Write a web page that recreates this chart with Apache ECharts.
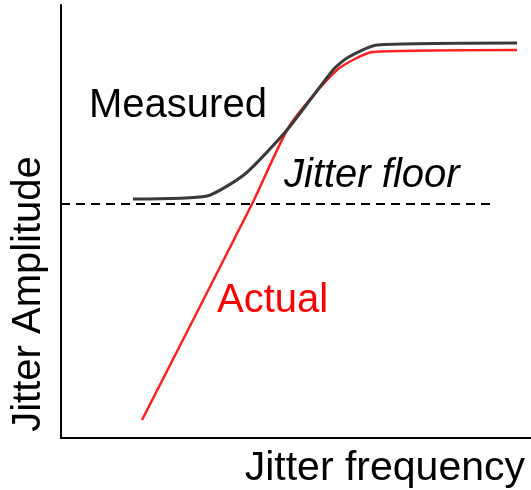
<!DOCTYPE html>
<html>
<head>
    <meta charset="utf-8">
    <title>Jitter</title>
    <style>
        html, body { margin: 0; padding: 0; background: #fff; }
        #chart1 { width: 531px; height: 490px; }
    </style>
</head>
<body>
<div id="chart1"></div>
<script src="https://cdn.jsdelivr.net/npm/echarts@6/dist/echarts.min.js"></script>
<script type="text/javascript">
    // schematic units (x: frequency, y: amplitude)
    var measuredX = [72, 146, 184, 226, 272, 286, 316, 456];
    var measuredY = [239, 242, 264, 308, 368, 380, 393, 395];
    var actualX = [81, 191, 229, 276, 312, 456];
    var actualY = [18, 234, 313, 368, 386, 388];
    var floorX = [0, 431];
    var floorY = [234, 234];

    function pairs(xs, ys) {
        var out = [];
        for (var i = 0; i < xs.length; i++) out.push([xs[i], ys[i]]);
        return out;
    }

    var font = '"Liberation Sans", Arial, sans-serif';
    var myChart1 = echarts.init(document.getElementById('chart1'));

    myChart1.setOption({
        animation: false,
        grid: { left: 61, right: 0, top: 5, bottom: 52, containLabel: false, outerBoundsMode: 'none' },
        xAxis: {
            type: 'value', min: 0, max: 470,
            name: 'Jitter frequency',
            nameLocation: 'end',
            nameGap: -6,
            nameTextStyle: {
                fontFamily: font, fontSize: 41, color: '#000',
                align: 'right', verticalAlign: 'top', padding: [10, 0, 0, 0]
            },
            axisLine: { show: true, lineStyle: { color: '#000', width: 2 } },
            axisTick: { show: false },
            axisLabel: { show: false },
            splitLine: { show: false }
        },
        yAxis: {
            type: 'value', min: 0, max: 433,
            axisLine: { show: true, lineStyle: { color: '#000', width: 2 } },
            axisTick: { show: false },
            axisLabel: { show: false },
            splitLine: { show: false }
        },
        series: [
            {
                name: 'Jitter floor',
                type: 'line',
                data: pairs(floorX, floorY),
                symbol: 'none',
                lineStyle: { color: '#000', width: 2, type: [9, 6] }
            },
            {
                name: 'Actual',
                type: 'line',
                data: pairs(actualX, actualY),
                symbol: 'none',
                smooth: 0.2,
                lineStyle: { color: '#ff2020', width: 2.5 }
            },
            {
                name: 'Measured',
                type: 'line',
                data: pairs(measuredX, measuredY),
                symbol: 'none',
                smooth: 0.2,
                lineStyle: { color: '#3a3a3a', width: 3 }
            }
        ],
        graphic: [
            // y axis title sits low, so it is placed by hand
            {
                type: 'text', x: 29, y: 294, rotation: Math.PI / 2,
                style: { text: 'Jitter Amplitude', font: '40px ' + font, fill: '#000', align: 'center', verticalAlign: 'middle' }
            },
            { type: 'text', left: 89, top: 86, style: { text: 'Measured', font: '40px ' + font, fill: '#000' } },
            { type: 'text', left: 284, top: 156, style: { text: 'Jitter floor', font: 'italic 40px ' + font, fill: '#000' } },
            { type: 'text', left: 217, top: 281, style: { text: 'Actual', font: '40px ' + font, fill: '#ff0000' } }
        ]
    });
</script>
</body>
</html>
